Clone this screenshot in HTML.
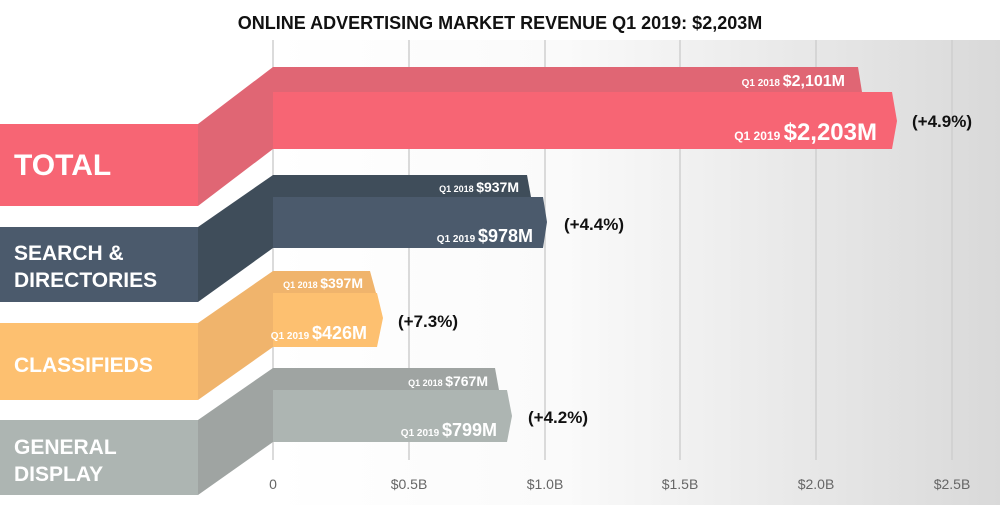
<!DOCTYPE html>
<html><head><meta charset="utf-8"><style>
html,body{margin:0;padding:0;background:#fff}
svg{display:block}
text{font-family:"Liberation Sans",sans-serif;font-weight:bold}
</style></head><body>
<svg width="1000" height="505" viewBox="0 0 1000 505" xmlns="http://www.w3.org/2000/svg">
<defs><linearGradient id="bg" x1="0" x2="1" y1="0" y2="0">
<stop offset="0" stop-color="#fff"/><stop offset="0.4" stop-color="#fafafa"/><stop offset="1" stop-color="#d9d9d9"/></linearGradient></defs>
<rect x="273" y="40" width="727" height="465" fill="url(#bg)"/>
<g stroke="#cfcfcf" stroke-width="1.5">
<line x1="273" y1="40" x2="273" y2="460"/><line x1="409" y1="40" x2="409" y2="460"/>
<line x1="545" y1="40" x2="545" y2="460"/><line x1="680" y1="40" x2="680" y2="460"/>
<line x1="816" y1="40" x2="816" y2="460"/><line x1="952" y1="40" x2="952" y2="460"/>
</g>
<text x="500" y="29" text-anchor="middle" font-size="18" fill="#111">ONLINE ADVERTISING MARKET REVENUE Q1 2019: $2,203M</text>

<!-- TOTAL -->
<polygon points="273,67 858,67 862,92 273,92" fill="#e06674"/>
<polygon points="273,92 892,92 897,121 892,149 273,149" fill="#f76574"/>
<rect x="0" y="124" width="198" height="82" fill="#f76574"/>
<polygon points="198,124 273,67 273,149 198,206" fill="#e06674"/>
<text x="14" y="175" font-size="30" fill="#fff">TOTAL</text>
<text x="845" y="86" text-anchor="end" fill="#fff"><tspan font-size="10">Q1 2018 </tspan><tspan font-size="16">$2,101M</tspan></text>
<text x="877" y="140" text-anchor="end" fill="#fff"><tspan font-size="12">Q1 2019 </tspan><tspan font-size="24">$2,203M</tspan></text>
<text x="912" y="127" font-size="17" fill="#111">(+4.9%)</text>

<!-- SEARCH -->
<polygon points="273,175 527,175 531,197 273,197" fill="#3f4d5a"/>
<polygon points="273,197 543,197 547,222 543,248 273,248" fill="#4b5a6c"/>
<rect x="0" y="227" width="198" height="75" fill="#4b5a6c"/>
<polygon points="198,227 273,175 273,248 198,302" fill="#3f4d5a"/>
<text x="14" y="260" font-size="21" fill="#fff">SEARCH &amp;</text>
<text x="14" y="287" font-size="21" fill="#fff">DIRECTORIES</text>
<text x="519" y="192" text-anchor="end" fill="#fff"><tspan font-size="9">Q1 2018 </tspan><tspan font-size="14">$937M</tspan></text>
<text x="533" y="242" text-anchor="end" fill="#fff"><tspan font-size="10">Q1 2019 </tspan><tspan font-size="18">$978M</tspan></text>
<text x="564" y="230" font-size="17" fill="#111">(+4.4%)</text>

<!-- CLASSIFIEDS -->
<polygon points="273,271 370,271 376,293 273,293" fill="#f0b46c"/>
<polygon points="273,293 377,293 383,318 377,347 273,347" fill="#fdc070"/>
<rect x="0" y="323" width="198" height="77" fill="#fdc070"/>
<polygon points="198,323 273,271 273,347 198,400" fill="#f0b46c"/>
<text x="14" y="372" font-size="21" fill="#fff">CLASSIFIEDS</text>
<text x="363" y="288" text-anchor="end" fill="#fff"><tspan font-size="9">Q1 2018 </tspan><tspan font-size="14">$397M</tspan></text>
<text x="367" y="339" text-anchor="end" fill="#fff"><tspan font-size="10">Q1 2019 </tspan><tspan font-size="18">$426M</tspan></text>
<text x="398" y="327" font-size="17" fill="#111">(+7.3%)</text>

<!-- GENERAL DISPLAY -->
<polygon points="273,368 495,368 499,390 273,390" fill="#9fa4a2"/>
<polygon points="273,390 507,390 512,416 507,442 273,442" fill="#adb5b2"/>
<rect x="0" y="420" width="198" height="75" fill="#adb5b2"/>
<polygon points="198,420 273,368 273,442 198,495" fill="#9fa4a2"/>
<text x="14" y="454" font-size="21" fill="#fff">GENERAL</text>
<text x="14" y="481" font-size="21" fill="#fff">DISPLAY</text>
<text x="488" y="386" text-anchor="end" fill="#fff"><tspan font-size="9">Q1 2018 </tspan><tspan font-size="14">$767M</tspan></text>
<text x="497" y="436" text-anchor="end" fill="#fff"><tspan font-size="10">Q1 2019 </tspan><tspan font-size="18">$799M</tspan></text>
<text x="528" y="423" font-size="17" fill="#111">(+4.2%)</text>

<g font-size="14" fill="#666" text-anchor="middle">
<text x="273" y="489" style="font-weight:normal">0</text>
<text x="409" y="489" style="font-weight:normal">$0.5B</text>
<text x="545" y="489" style="font-weight:normal">$1.0B</text>
<text x="680" y="489" style="font-weight:normal">$1.5B</text>
<text x="816" y="489" style="font-weight:normal">$2.0B</text>
<text x="952" y="489" style="font-weight:normal">$2.5B</text>
</g>
</svg>
</body></html>
